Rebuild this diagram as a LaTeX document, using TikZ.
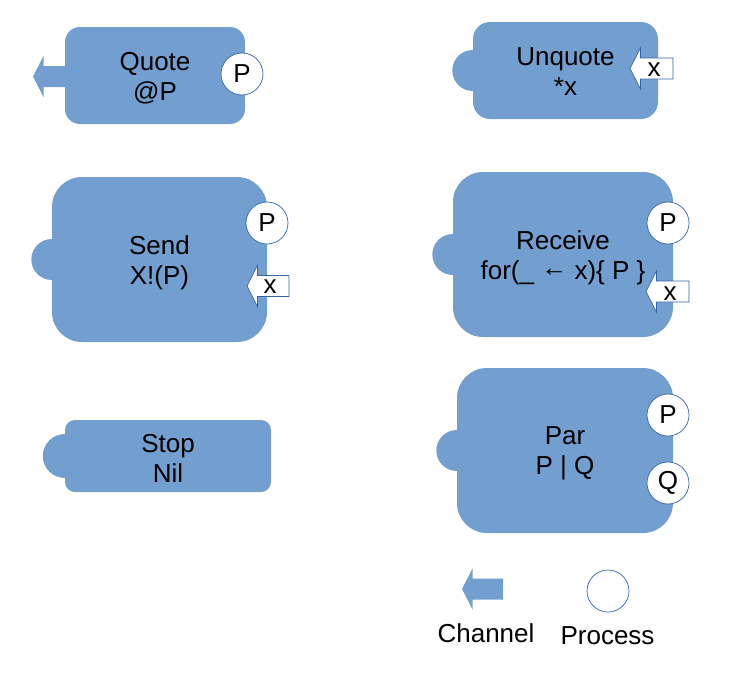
\documentclass[tikz,border=0pt]{standalone}
\usepackage{fontspec}
\setmainfont{Liberation Sans}
\definecolor{blockblue}{HTML}{729FCF}
\definecolor{edgeblue}{HTML}{3465A4}
\begin{document}
\begin{tikzpicture}[x=1pt,y=-1pt,
  txt/.style={font=\fontsize{26}{30}\selectfont},
  block/.style={rectangle, fill=blockblue, inner sep=0pt},
  btext/.style={align=center, txt, inner sep=0pt},
  bump/.style={circle, fill=blockblue, minimum size=41pt, inner sep=0pt},
  proc/.style={circle, fill=white, draw=edgeblue, line width=0.7pt, minimum size=42pt, inner sep=0pt, txt},
  chanfill/.style={fill=blockblue},
  chanwhite/.style={fill=white, draw=edgeblue, line width=0.7pt},
  lbl/.style={txt, inner sep=0pt},
  pics/chan/.style={code={\path[pic actions] (0,0) -- (10.5,-20.5) -- (10.5,-10.5) -- (#1,-10.5) -- (#1,10.5) -- (10.5,10.5) -- (10.5,20.5) -- cycle;}},
]
\useasboundingbox (0,0) rectangle (729,675);

% Quote
\pic[chanfill] at (33,76.5) {chan=40};
\node[block, minimum width=180pt, minimum height=97pt, rounded corners=15pt] (quote) at (155,75.5) {};
\node[btext] (quoteT) at ([yshift=-3pt]quote.center) {Quote\\@P};
\node[proc] (quoteP) at (242,74) {P};

% Unquote
\node[block, minimum width=185pt, minimum height=97pt, rounded corners=17pt] (unquote) at (565.5,70.5) {};
\node[btext] (unquoteT) at ([yshift=-1pt]unquote.center) {Unquote\\*x};
\node[bump] (unquoteB) at (unquote.west) {};
\pic[chanwhite] at (630,68.5) {chan=43};
\node[lbl] (unquoteX) at (654,70) {x};

% Send
\node[block, minimum width=215pt, minimum height=165pt, rounded corners=30pt] (send) at (159.5,259.5) {};
\node[btext] (sendT) at ([yshift=-3pt]send.center) {Send\\X!(P)};
\node[bump] (sendB) at (send.west) {};
\node[proc] (sendP) at (267,223) {P};
\pic[chanwhite] at (247,286) {chan=42};
\node[lbl] (sendX) at (270,286.5) {x};

% Receive
\node[block, minimum width=220pt, minimum height=165pt, rounded corners=30pt] (receive) at (563,254.5) {};
\node[btext] (receiveT) at ([yshift=-3pt]receive.center) {Receive\\for(\_ \raisebox{0.12em}{←} x)\{ P \}};
\node[bump] (receiveB) at (receive.west) {};
\node[proc] (receiveP) at (668,223) {P};
\pic[chanwhite] at (646,291.5) {chan=43};
\node[lbl] (receiveX) at (670,294) {x};

% Stop
\node[block, minimum width=206pt, minimum height=72pt, rounded corners=10pt] (stop) at (168,456) {};
\node[btext] (stopT) at ([yshift=-2pt]stop.center) {Stop\\Nil};
\node[bump, minimum size=44pt] (stopB) at (stop.west) {};

% Par
\node[block, minimum width=216pt, minimum height=165pt, rounded corners=30pt] (par) at (565,450.5) {};
\node[btext] (parT) at ([yshift=-3pt]par.center) {Par\\P | Q};
\node[bump] (parB) at (par.west) {};
\node[proc] (parP) at (668,415) {P};
\node[proc] (parQ) at (668,483) {Q};

% Legend
\pic[chanfill] at (462,589) {chan=41};
\coordinate (legchan) at (482,589);
\node[proc] (legproc) at (608,591) {};
\node[lbl, anchor=base] (chanlbl) at (486,642) {Channel};
\node[lbl, anchor=base] (proclbl) at (607.5,644) {Process};
\end{tikzpicture}
\end{document}
